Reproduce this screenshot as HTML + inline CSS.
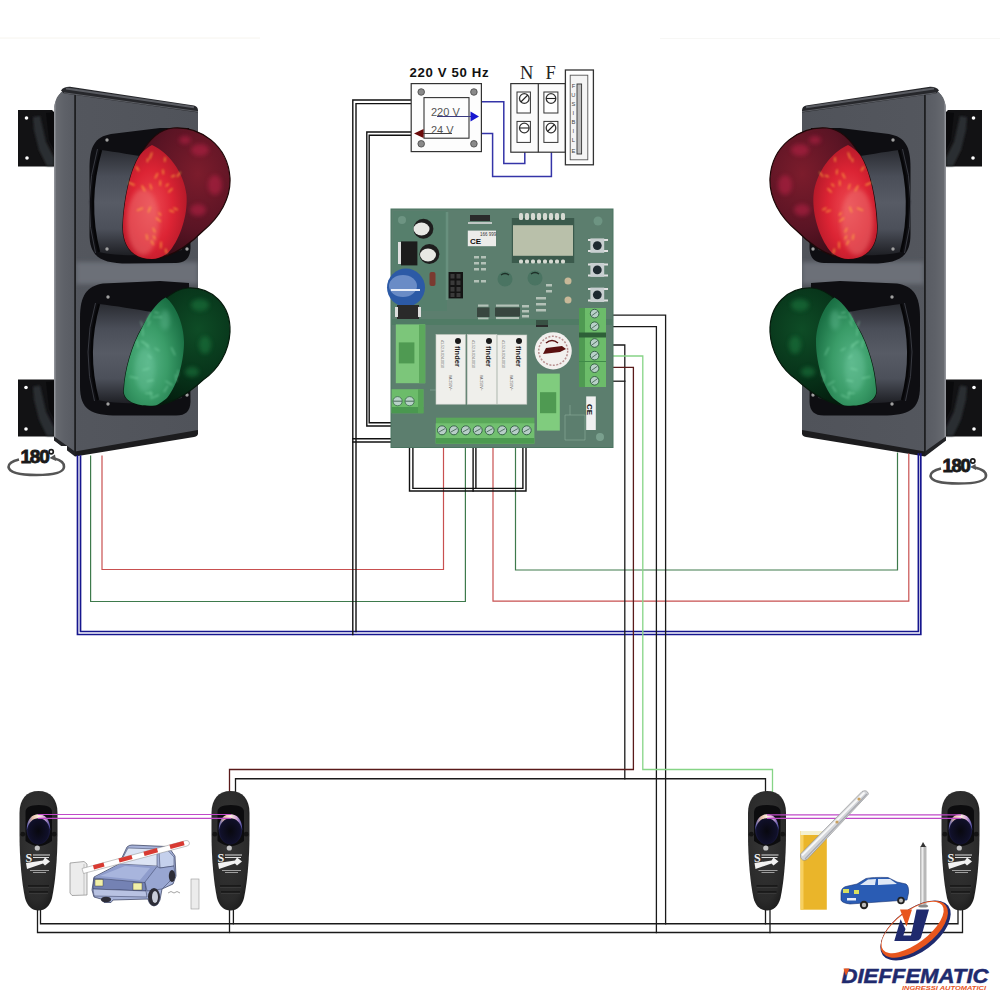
<!DOCTYPE html>
<html><head><meta charset="utf-8"><title>Semaforo schema</title>
<style>
html,body{margin:0;padding:0;background:#fff;}
body{width:1000px;height:1000px;overflow:hidden;font-family:"Liberation Sans",sans-serif;}
svg{display:block;}
</style></head>
<body>
<svg width="1000" height="1000" viewBox="0 0 1000 1000">
<defs>
<clipPath id="faceclip"><rect x="76" y="240" width="122" height="60"/></clipPath>
<filter id="blur2" x="-20%" y="-20%" width="140%" height="140%"><feGaussianBlur stdDeviation="2"/></filter>
<filter id="blur1" x="-20%" y="-20%" width="140%" height="140%"><feGaussianBlur stdDeviation="0.8"/></filter>
<radialGradient id="redIn" cx="0.45" cy="0.55" r="0.6">
<stop offset="0" stop-color="#ee4a52"/><stop offset="0.55" stop-color="#dc2434"/><stop offset="1" stop-color="#b01828"/>
</radialGradient>
<radialGradient id="redOut" cx="0.7" cy="0.35" r="0.7">
<stop offset="0" stop-color="#7c1c2c"/><stop offset="0.6" stop-color="#5a1424"/><stop offset="1" stop-color="#380c16"/>
</radialGradient>
<radialGradient id="grnIn" cx="0.4" cy="0.6" r="0.65">
<stop offset="0" stop-color="#56b486"/><stop offset="0.5" stop-color="#3a9c68"/><stop offset="1" stop-color="#1a7044"/>
</radialGradient>
<radialGradient id="grnOut" cx="0.7" cy="0.35" r="0.7">
<stop offset="0" stop-color="#0e4c26"/><stop offset="0.6" stop-color="#073219"/><stop offset="1" stop-color="#031c0d"/>
</radialGradient>
<linearGradient id="housing" x1="0" y1="0" x2="1" y2="0">
<stop offset="0" stop-color="#54575e"/><stop offset="1" stop-color="#50535a"/>
</linearGradient>
<linearGradient id="side" x1="0" y1="0" x2="1" y2="0">
<stop offset="0" stop-color="#9a9ca2"/><stop offset="0.12" stop-color="#66696f"/><stop offset="0.5" stop-color="#5e6168"/><stop offset="1" stop-color="#585b62"/>
</linearGradient>
<linearGradient id="cyl" x1="0" y1="0" x2="0" y2="1">
<stop offset="0" stop-color="#2a2c32"/><stop offset="0.25" stop-color="#4a4e58"/><stop offset="0.5" stop-color="#575b65"/><stop offset="0.75" stop-color="#4c505a"/><stop offset="1" stop-color="#1e1f24"/>
</linearGradient>
<radialGradient id="hood" cx="0.3" cy="0.6" r="0.62">
<stop offset="0" stop-color="#585c68"/><stop offset="0.45" stop-color="#464a55"/><stop offset="0.8" stop-color="#26282e"/><stop offset="1" stop-color="#0e0e12"/>
</radialGradient>
<radialGradient id="pcell" cx="0.45" cy="0.4" r="0.65">
<stop offset="0" stop-color="#363636"/><stop offset="0.8" stop-color="#2a2a2a"/><stop offset="1" stop-color="#1c1c1c"/>
</radialGradient>
<radialGradient id="plens" cx="0.5" cy="0.55" r="0.6">
<stop offset="0" stop-color="#08080f"/><stop offset="0.7" stop-color="#10102a"/><stop offset="0.9" stop-color="#262656"/><stop offset="1" stop-color="#44447e"/>
</radialGradient>
<linearGradient id="rim" x1="0" y1="0" x2="1" y2="0">
<stop offset="0" stop-color="#5a5ab0"/><stop offset="0.25" stop-color="#e8c0a8"/><stop offset="0.5" stop-color="#fff0e0"/><stop offset="0.75" stop-color="#d8a8d8"/><stop offset="1" stop-color="#4a4aa0"/>
</linearGradient>

<g id="tl">
  <!-- brackets -->
  <path d="M18,110 L52,110 L54,112 L54,166.5 L18,166.5 Z" fill="#121214"/>
  <path d="M33,117 L40,116 L46,142 L54,158 L54,166 L47,166 L39,150 L34,130 Z" fill="#2c2e33" filter="url(#blur1)"/><path d="M46,113 L54,112 L54,150 L49,140 Z" fill="#0a0a0c"/>
  <circle cx="26.5" cy="118" r="1.8" fill="#fff"/>
  <circle cx="27" cy="158" r="1.8" fill="#fff"/>
  <path d="M18,379.5 L54,379.5 L54,436.5 L18,436.5 Z" fill="#121214"/>
  <path d="M33,386.5 L40,385.5 L46,411.5 L54,427.5 L54,436 L47,436 L39,419.5 L34,399.5 Z" fill="#2c2e33" filter="url(#blur1)"/><path d="M46,382 L54,381 L54,419 L49,409 Z" fill="#0a0a0c"/>
  <circle cx="26" cy="387.5" r="1.8" fill="#fff"/>
  <circle cx="26" cy="429" r="1.8" fill="#fff"/>
  <!-- housing body -->
  <path d="M54,108 C55.5,97 61,90 69,88.8 L194,107.5 Q198,108.5 198,113 L198,431 Q198,435 194,436 L75,455.5 L54,440 Z" fill="url(#housing)"/>
  <!-- side panel -->
  <path d="M54,108 C55.5,97 61,90 69,88.8 L75,89.8 L75,455.5 L54,440 Z" fill="url(#side)"/>
  <rect x="76" y="262" width="122" height="22" fill="#6c7078" filter="url(#blur2)" clip-path="url(#faceclip)"/>
  <rect x="74.2" y="93" width="1.8" height="361" fill="#1e1f21"/>
  <!-- top rim -->
  <path d="M61,90.5 Q63.5,86.6 70,86.8 L194,105.5 Q198,106.5 198,110.5 L198,112.5 L75,95 L64,93.5 Z" fill="#26272b"/>
  <path d="M66,88.4 L194,107.2" stroke="#5a5c62" stroke-width="2" fill="none"/>
  <path d="M64,92.8 L75,94.3 L198,111.6" stroke="#6a6c72" stroke-width="0.8" fill="none"/>
  <!-- bottom rim -->
  <path d="M75,451.5 L198,430 L198,433.5 Q198,436 194,437 L75,456.5 Z" fill="#1c1c1e"/>
  <path d="M54,436.5 L75,451.5 L75,456.5 L54,440.5 Z" fill="#222326"/>
  <!-- red lamp -->
  <path d="M89.5,168 C89.5,146 95,137 111,134 L160,128 L189,128 L190.5,248 C190,258 186,262.5 176,263 L128,263.5 C101,263.5 89.5,257 89.5,234 Z" fill="#0e0e12"/>
  <path d="M101,150 C115,152 135,155 150,158 L182,160 L182,250 C160,256 120,257 99,252 Q86,202 101,150 Z" fill="url(#cyl)"/>
  <path d="M97.5,149 Q82,202 95.5,253" stroke="#3c3e46" stroke-width="0.9" fill="none"/>
  <path d="M101,150 Q86,202 99,252" stroke="#060608" stroke-width="2.4" fill="none"/>
  <circle cx="107" cy="140" r="1.7" fill="#a0a0a0"/>
  <circle cx="107" cy="249" r="1.7" fill="#a0a0a0"/>
  <circle cx="187" cy="249" r="1.7" fill="#a0a0a0"/>
  <path d="M173,128 C200,126 228,145 230,178 C231,198 220,217 203,231 C188,246 170,258 152,259 C132,259 122,245 123,225 C124,200 130,170 140,155 C150,138 160,129 173,128 Z" fill="url(#redOut)" stroke="#1e0808" stroke-width="1.2"/>
  <g fill="#c0204a" opacity="0.5" filter="url(#blur2)">
    <ellipse cx="200" cy="150" rx="9" ry="6"/><ellipse cx="215" cy="185" rx="7" ry="10"/><ellipse cx="198" cy="210" rx="8" ry="6"/><ellipse cx="185" cy="140" rx="6" ry="4"/>
  </g>
  <path d="M152,145 C168,152 184,172 186.5,195 C188,215 180,240 168,253 C162,257 157,259 152,259 C132,259 122,245 123,225 C124,200 130,170 140,155 C144,150 148,147 152,145 Z" fill="url(#redIn)"/>
  <ellipse cx="143" cy="222" rx="16" ry="33" fill="#ec7070" opacity="0.5" filter="url(#blur2)"/>
  <g stroke="#ffb83c" stroke-width="1.4" opacity="0.75" stroke-linecap="round" filter="url(#blur1)">
    <path d="M147.4,161.6 l0.3,-2.7"/><path d="M160.2,185.2 l0.1,-4.3"/><path d="M153.5,236.0 l1.5,2.9"/><path d="M165.6,249.2 l1.0,3.8"/><path d="M146.5,234.8 l0.9,4.4"/><path d="M166.3,186.0 l1.9,-2.0"/><path d="M168.8,192.0 l3.2,-3.2"/><path d="M155.2,178.0 l2.3,-4.4"/><path d="M142.6,208.2 l-5.2,2.1"/><path d="M171.8,176.7 l2.6,-1.2"/><path d="M153.1,228.3 l1.9,3.7"/><path d="M173.9,208.0 l3.2,1.7"/><path d="M169.7,210.4 l3.9,1.4"/><path d="M156.4,218.1 l3.9,3.1"/><path d="M177.3,176.3 l2.9,-3.9"/><path d="M151.5,240.9 l1.8,3.6"/><path d="M161.0,242.2 l-0.2,5.5"/><path d="M144.7,190.7 l-2.7,-4.9"/><path d="M138.6,170.5 l-2.3,-3.5"/><path d="M163.3,173.9 l-0.4,-4.0"/><path d="M150.2,207.3 l-1.8,4.6"/><path d="M158.9,212.9 l1.7,2.1"/><path d="M151.5,188.9 l-1.4,-4.5"/><path d="M134.1,185.0 l-5.1,-2.3"/><path d="M164.8,161.3 l0.3,-3.7"/><path d="M149.8,158.5 l2.0,-5.6"/>
  </g>

  <!-- green lamp -->
  <path d="M80,318 C80,295 87,286 103,283.5 L160,281 L189,283 L190.5,402 C190,411 186,415.5 176,415.5 L118,415.5 C91,415.5 80,410 80,386 Z" fill="#0e0e12"/>
  <path d="M99,304 C115,306 135,309 152,312 L182,312 L182,398 C160,404 120,405 98,400 Q85,352 99,304 Z" fill="url(#cyl)"/>
  <path d="M95.5,303 Q81,352 94.5,401" stroke="#3c3e46" stroke-width="0.9" fill="none"/>
  <path d="M99,304 Q85,352 98,400" stroke="#060608" stroke-width="2.4" fill="none"/>
  <circle cx="108" cy="297" r="1.7" fill="#a0a0a0"/>
  <circle cx="108" cy="404" r="1.7" fill="#a0a0a0"/>
  <circle cx="187" cy="395" r="1.7" fill="#a0a0a0"/>
  <path d="M188,288 C212,287 231,305 230,332 C229,352 218,370 203,380 C190,392 172,404 155,405.5 C135,407 122,400 124,389 C125,370 132,345 142,328 C152,310 170,289 188,288 Z" fill="url(#grnOut)" stroke="#061a0c" stroke-width="1.2"/>
  <g fill="#1e7a40" opacity="0.55" filter="url(#blur2)">
    <ellipse cx="200" cy="305" rx="9" ry="6"/><ellipse cx="205" cy="345" rx="6" ry="9"/><ellipse cx="192" cy="372" rx="7" ry="5"/>
  </g>
  <path d="M165.5,297.5 C176,305 184,325 184,342 C184,360 178,385 167,398 C162,402 158,405 155,405.5 C135,407 122,400 124,389 C125,370 132,345 142,328 C148,315 156,303 165.5,297.5 Z" fill="url(#grnIn)"/>
  <g fill="#70c8a0" opacity="0.35" filter="url(#blur2)">
    <ellipse cx="145" cy="370" rx="10" ry="22"/><ellipse cx="165" cy="320" rx="5" ry="10"/>
  </g>
  <g stroke="#9aeec0" stroke-width="1.2" opacity="0.45" stroke-linecap="round" filter="url(#blur1)">
    <path d="M155.0,348.3 l3.9,2.3"/><path d="M147.9,325.5 l2.3,-4.2"/><path d="M158.6,313.2 l-4.0,-1.1"/><path d="M178.1,370.4 l-0.4,5.8"/><path d="M137.7,378.3 l-7.7,-1.6"/><path d="M147.1,321.2 l3.4,-8.3"/><path d="M175.5,374.9 l1.0,6.5"/><path d="M143.0,370.0 l6.0,-1.7"/><path d="M140.8,321.6 l1.7,4.7"/><path d="M164.2,391.6 l3.4,-5.4"/><path d="M165.9,381.2 l6.3,3.7"/><path d="M171.5,347.7 l3.4,7.2"/><path d="M147.3,381.3 l5.9,-1.1"/><path d="M151.3,396.5 l-0.8,-4.8"/><path d="M148.3,355.1 l2.8,3.0"/><path d="M158.5,395.1 l-7.6,3.4"/><path d="M142.6,328.5 l0.4,6.9"/><path d="M143.0,341.6 l5.8,6.3"/><path d="M148.5,345.6 l-7.4,-4.3"/><path d="M152.4,393.4 l-6.7,-0.1"/><path d="M153.5,317.0 l8.0,0.2"/><path d="M138.0,347.2 l-1.1,-6.7"/>
  </g>
</g>

<g id="pc">
  <path d="M38.5,791 C50.5,791 57.5,799 57.5,813 L57.5,834 C57.5,860 55,884 52,898 C50,906 45,910.5 38.5,910.5 C32,910.5 27,906 25,898 C22,884 19.5,860 19.5,834 L19.5,813 C19.5,799 26.5,791 38.5,791 Z" fill="url(#pcell)"/>
  <path d="M25.5,812 Q25.5,805 38.8,805 Q52,805 52,812 L52,841 Q45,846 38.8,846 Q32,846 25.5,841 Z" fill="#0c0c0e"/>
  <ellipse cx="38.4" cy="829.5" rx="11.8" ry="15" fill="url(#plens)"/>
  <path d="M26.8,830 C26.8,819 32,814.3 38.4,814.3 C45,814.3 50.2,819 50.2,830 C48.5,822 44,818.2 38.4,818.2 C33,818.2 28.5,822 26.8,830 Z" fill="url(#rim)"/>
  <circle cx="22.8" cy="834.2" r="2.4" fill="#141414"/>
  <circle cx="54.2" cy="834.2" r="2.4" fill="#141414"/>
  <circle cx="37.3" cy="848" r="2.6" fill="#c4c4c4"/>
  <text x="25.5" y="861.5" font-family="Liberation Serif" font-weight="bold" font-size="12" fill="#f2f2f2">S</text>
  <path d="M33,855 H50 M33,857.5 H49" stroke="#dcdcdc" stroke-width="1.1"/>
  <path d="M26,863 L43,860.5 L45,857.5 L50,861.5 L45,865.5 L43,863.5 L27,869 Z" fill="#f2f2f2"/>
  <path d="M30,870.5 H49 M33,872.5 H46" stroke="#bdbdbd" stroke-width="0.8"/>
  <path d="M28,886 H49 M29,892 H48" stroke="#141414" stroke-width="1.3"/>
  <path d="M28,887.3 H49 M29,893.3 H48" stroke="#4a4a4a" stroke-width="0.6"/>
</g>
</defs>

<rect width="1000" height="1000" fill="#fff"/>
<line x1="0" y1="38" x2="260" y2="38" stroke="#f6f4ee" stroke-width="1"/>
<line x1="660" y1="38.5" x2="1000" y2="38.5" stroke="#f7f7f5" stroke-width="1"/>

<use href="#tl"/>
<use href="#tl" transform="translate(1000,0) scale(-1,1)"/>


<!-- ================= WIRES ================= -->
<g fill="none" stroke-linejoin="miter" stroke-linecap="square">
  <!-- blue common -->
  <g stroke="#16168e" stroke-width="1.7">
    <path d="M77.5,456 V634.5 H920.8 V454"/>
    <path d="M80.5,456 V631.5 H918.4 V454"/>
  </g>
  <!-- traffic light red/green -->
  <path d="M102,456 V569.5 H443.5 V447" stroke="#c85050" stroke-width="1.2"/>
  <path d="M90.6,456 V601.5 H465.4 V447" stroke="#3e7a4c" stroke-width="1.2"/>
  <path d="M908.8,454 V601.2 H493 V447" stroke="#c85050" stroke-width="1.2"/>
  <path d="M897.5,453 V570 H515.5 V447" stroke="#3e7a4c" stroke-width="1.2"/>
  <!-- black transformer wires -->
  <g stroke="#111" stroke-width="1.4">
    <path d="M411,100 H352.8 V634.5"/>
    <path d="M411,103.6 H356 V631.5"/>
    <path d="M411,132 H366.8 V426 H404.2 V414"/>
    <path d="M411,135.2 H369.2 V422.8 H400.2 V414"/>
    <path d="M353,438.8 H412.9"/>
    <path d="M353,442 H409.5"/>
    <path d="M409.5,413 V491 H526 V446"/>
    <path d="M412.9,413 V488.4 H522.9 V446"/>
    <path d="M473.1,446 V491"/>
    <path d="M475.9,446 V488.4"/>
  </g>
  <!-- photocell wiring -->
  <g stroke="#1a1a1a" stroke-width="1.3">
    <path d="M612,315.2 H665.6 V923.75"/>
    <path d="M612,326.6 H656.4 V932.5"/>
    <path d="M612,345 H624.8 V778.75"/>
    <path d="M612,381.2 H624.8"/>
    <path d="M235.5,793 V778.75 H765.5 V793"/>
    <path d="M37.5,909 V932.5 H962.5 V909"/>
    <path d="M40.5,909 V923.75 H958 V909"/>
    <path d="M229.5,909 V932.5"/>
    <path d="M233.4,909 V923.75"/>
    <path d="M765.5,909 V923.75"/>
    <path d="M770,909 V932.5"/>
  </g>
  <path d="M612,356 H642.8 V769.5 H772.5 V793" stroke="#86d486" stroke-width="1.3"/>
  <path d="M612,367.4 H633.4 V769.5 H229.5 V793" stroke="#5a1a1a" stroke-width="1.3"/>
  <!-- blue power -->
  <g stroke="#3434a8" stroke-width="1.5">
    <path d="M481.4,101.8 H503.8 V163.4 H524.8 V152.2"/>
    <path d="M481.4,133.4 H492.6 V176.6 H551.4 V152.2"/>
  </g>
</g>

<!-- ================= TRANSFORMER ================= -->
<text x="409.5" y="76.6" font-family="Liberation Sans" font-weight="bold" font-size="13.2" fill="#111" textLength="79" lengthAdjust="spacing">220 V 50 Hz</text>
<rect x="411.2" y="83.6" width="70.2" height="68" fill="#fdfdfd" stroke="#333" stroke-width="1.2"/>
<rect x="424" y="97.6" width="45" height="40.6" fill="#fdfdfd" stroke="#333" stroke-width="1.1"/>
<g fill="#8a8a8a" stroke="#444" stroke-width="0.8">
  <circle cx="421.2" cy="92" r="3.3"/><circle cx="473.9" cy="92" r="3.3"/>
  <circle cx="421.2" cy="143.8" r="3.3"/><circle cx="473.9" cy="143.8" r="3.3"/>
</g>
<text x="431" y="115.5" font-family="Liberation Sans" font-size="11" fill="#555">220 V</text>
<text x="431" y="133.5" font-family="Liberation Sans" font-size="11" fill="#555">24 V</text>
<path d="M437,116.5 H472" stroke="#3a3a80" stroke-width="1"/>
<path d="M470.5,111.5 L479,116.5 L470.5,121.5 Z" fill="#1616d0"/>
<path d="M423,133.5 H452" stroke="#444" stroke-width="1"/>
<path d="M414,133.5 L423.5,129 L423.5,138 Z" fill="#6a0a0a"/>

<!-- N F terminals -->
<text x="520" y="78.5" font-family="Liberation Serif" font-size="18.5" fill="#222">N</text>
<text x="545.5" y="78.5" font-family="Liberation Serif" font-size="18.5" fill="#222">F</text>
<rect x="510.8" y="83.6" width="54.6" height="68.6" fill="#fbfbfb" stroke="#333" stroke-width="1.2"/>
<line x1="538.3" y1="83.6" x2="538.3" y2="152.2" stroke="#333" stroke-width="1.2"/>
<g fill="#fff" stroke="#333" stroke-width="1">
  <rect x="517" y="92" width="13.4" height="21"/><rect x="517" y="121.4" width="13.4" height="21"/>
  <rect x="543.9" y="92" width="14" height="21"/><rect x="543.9" y="121.4" width="14" height="21"/>
  <circle cx="524.3" cy="98.5" r="4.8" stroke-width="1.3"/><circle cx="524.3" cy="128" r="4.8" stroke-width="1.3"/>
  <circle cx="551" cy="98.5" r="4.8" stroke-width="1.3"/><circle cx="551" cy="128" r="4.8" stroke-width="1.3"/>
</g>
<g stroke="#222" stroke-width="1.1">
  <path d="M520.8,102 L527.8,95"/><path d="M519.5,128 H529.1"/>
  <path d="M546.2,98.5 H555.8"/><path d="M547.5,131.5 L554.5,124.5"/>
</g>
<!-- fuse -->
<rect x="565.4" y="70" width="28" height="94.8" fill="#fff" stroke="#333" stroke-width="1.3"/>
<rect x="570.2" y="75.2" width="17.6" height="84.6" fill="#f4f4f4" stroke="#555" stroke-width="0.9"/>
<rect x="577" y="84" width="4.6" height="70" fill="#bdbdbd" stroke="#333" stroke-width="0.9"/>
<g font-family="Liberation Sans" font-size="5.8" fill="#444" text-anchor="middle">
  <text x="573.4" y="88">F</text><text x="573.4" y="97">U</text><text x="573.4" y="106">S</text><text x="573.4" y="115">I</text>
  <text x="573.4" y="124">B</text><text x="573.4" y="133">I</text><text x="573.4" y="142">L</text><text x="573.4" y="153">E</text>
</g>


<!-- ================= PCB ================= -->
<g id="pcb">
  <rect x="391" y="209" width="222" height="238.5" fill="#5c7e6e"/>
  <rect x="391" y="209" width="222" height="238.5" fill="none" stroke="#4a7560" stroke-width="1"/>
  <!-- subtle regions -->
  <rect x="393" y="211" width="54" height="100" fill="#52806a" opacity="0.6"/>
  <path d="M447,212 V300" stroke="#6f9886" stroke-width="2.5" opacity="0.7"/>
  <circle cx="402" cy="220" r="4" fill="#6d9482"/>
  <circle cx="598" cy="221" r="4.5" fill="#6d9482"/>
  <circle cx="600" cy="437" r="4" fill="#7aa08e"/>
  <!-- mounting holes/ traces -->
  <circle cx="505" cy="279" r="7.5" fill="#4a7462"/>
  <circle cx="535" cy="278" r="7.5" fill="#4a7462"/>
  <path d="M501,275 Q505,272 509,275 M531,274 Q535,271 539,274" stroke="#1e3028" stroke-width="1.5" fill="none"/>
  <!-- black caps -->
  <circle cx="423.4" cy="228.8" r="10" fill="#1e1e1e"/>
  <ellipse cx="421.5" cy="229" rx="8" ry="6.5" fill="#e8e8e4"/>
  <circle cx="429.4" cy="254" r="10" fill="#1e1e1e"/>
  <ellipse cx="428" cy="255" rx="8" ry="6.5" fill="#e8e8e4"/>
  <!-- regulator -->
  <rect x="398" y="242" width="3" height="22" fill="#e0e0e0"/>
  <rect x="401" y="241.4" width="16.4" height="24" fill="#1c1c1c"/>
  <!-- resistor -->
  <rect x="429.5" y="272" width="6" height="14" rx="2" fill="#7a3a30"/>
  <!-- blue cap -->
  <circle cx="406" cy="287.6" r="19" fill="#2c5aa6"/>
  <ellipse cx="403" cy="286" rx="14" ry="11" fill="#6a8cc6"/>
  <path d="M391,290 H420" stroke="#e8eef8" stroke-width="2"/>
  <!-- IC under regulator -->
  <rect x="397" y="305" width="22" height="14" fill="#2a2a2a"/>
  <rect x="395" y="307" width="3" height="10" fill="#ddd"/><rect x="418" y="307" width="3" height="10" fill="#ddd"/>
  <!-- connector -->
  <rect x="448.6" y="272" width="14.4" height="26.4" fill="#141414"/>
  <g fill="#3a3a3a"><rect x="450.5" y="274" width="4" height="4.5"/><rect x="456.5" y="274" width="4" height="4.5"/>
  <rect x="450.5" y="280.5" width="4" height="4.5"/><rect x="456.5" y="280.5" width="4" height="4.5"/>
  <rect x="450.5" y="287" width="4" height="4.5"/><rect x="456.5" y="287" width="4" height="4.5"/>
  <rect x="450.5" y="293" width="4" height="4"/><rect x="456.5" y="293" width="4" height="4"/></g>
  <!-- label -->
  <rect x="467.8" y="230.6" width="28.2" height="15.6" fill="#ececea"/>
  <text x="470" y="243.5" font-family="Liberation Sans" font-weight="bold" font-size="8" fill="#111">CE</text>
  <text x="480" y="236" font-family="Liberation Sans" font-size="4.5" fill="#333">166 999</text>
  <!-- small chips top -->
  <rect x="470" y="215" width="20" height="6" fill="#2a2a2a"/>
  <g fill="#d8d8d8" opacity="0.8"><rect x="468" y="222" width="24" height="2"/></g>
  <!-- LCD -->
  <rect x="511.8" y="218" width="62.4" height="45" fill="#3b5a4c"/>
  <g fill="#d6dad2"><rect x="519" y="213" width="4" height="7" rx="1.5"/><rect x="525" y="213" width="4" height="7" rx="1.5"/><rect x="531" y="213" width="4" height="7" rx="1.5"/><rect x="537" y="213" width="4" height="7" rx="1.5"/><rect x="543" y="213" width="4" height="7" rx="1.5"/><rect x="549" y="213" width="4" height="7" rx="1.5"/><rect x="555" y="213" width="4" height="7" rx="1.5"/><rect x="561" y="213" width="4" height="7" rx="1.5"/>
  <rect x="519" y="259.5" width="4" height="4" rx="1.5"/><rect x="525" y="259.5" width="4" height="4" rx="1.5"/><rect x="531" y="259.5" width="4" height="4" rx="1.5"/><rect x="537" y="259.5" width="4" height="4" rx="1.5"/><rect x="543" y="259.5" width="4" height="4" rx="1.5"/><rect x="549" y="259.5" width="4" height="4" rx="1.5"/><rect x="555" y="259.5" width="4" height="4" rx="1.5"/><rect x="561" y="259.5" width="4" height="4" rx="1.5"/></g>
  <rect x="513" y="225.2" width="60" height="30.6" fill="#b9c0aa"/>
  <!-- buttons -->
  <g>
    <rect x="588" y="239" width="20" height="2" fill="#e0e0e0"/><rect x="588" y="250" width="20" height="2" fill="#e0e0e0"/>
    <rect x="590.4" y="238.4" width="13.8" height="14.4" fill="#c8cfd0"/><circle cx="597.3" cy="245.6" r="4.4" fill="#1e2a30"/>
    <rect x="588" y="263.5" width="20" height="2" fill="#e0e0e0"/><rect x="588" y="274.5" width="20" height="2" fill="#e0e0e0"/>
    <rect x="590.4" y="263" width="13.8" height="13.8" fill="#c8cfd0"/><circle cx="597.3" cy="269.9" r="4.4" fill="#1e2a30"/>
    <rect x="588" y="288" width="20" height="2" fill="#e0e0e0"/><rect x="588" y="299.5" width="20" height="2" fill="#e0e0e0"/>
    <rect x="590.4" y="287.6" width="13.8" height="14.4" fill="#c8cfd0"/><circle cx="597.3" cy="294.8" r="4.4" fill="#1e2a30"/>
  </g>
  <!-- LEDs -->
  <circle cx="568" cy="281" r="3.5" fill="#c8b898"/>
  <circle cx="568" cy="300" r="3.5" fill="#c8b898"/>
  <!-- small SMD chips middle -->
  <rect x="477" y="307.5" width="12.5" height="9.5" fill="#38463f"/>
  <rect x="495" y="307.5" width="25" height="9" fill="#38463f"/>
  <g fill="#d0d8d0" opacity="0.75">
    <rect x="478" y="304.5" width="10.5" height="2.2"/><rect x="478" y="317.5" width="10.5" height="2.2"/>
    <rect x="496" y="304.5" width="23" height="2.2"/><rect x="496" y="317" width="23" height="2.2"/>
    <rect x="522" y="305" width="7" height="2.5"/><rect x="522" y="310" width="7" height="2.5"/><rect x="522" y="315" width="7" height="2.5"/>
    <rect x="474" y="256" width="5" height="2.5"/><rect x="481" y="256" width="5" height="2.5"/>
    <rect x="474" y="262" width="5" height="2.5"/><rect x="481" y="262" width="5" height="2.5"/>
    <rect x="474" y="268" width="5" height="2.5"/><rect x="481" y="268" width="5" height="2.5"/>
    <rect x="474" y="280" width="5" height="2.5"/><rect x="481" y="280" width="5" height="2.5"/>
    <rect x="536" y="297" width="10" height="2.5"/><rect x="536" y="303" width="10" height="2.5"/><rect x="536" y="309" width="10" height="2.5"/>
    <rect x="546" y="284" width="6" height="2.5"/><rect x="546" y="290" width="6" height="2.5"/>
  </g>
  <rect x="536" y="320" width="12" height="7" fill="#2a2a2a"/>
  <path d="M392,322 H612" stroke="#467a5e" stroke-width="6" opacity="0.5"/>
  <!-- left fuse holder -->
  <rect x="395.8" y="324.4" width="29.4" height="58.8" fill="#7cc67a"/>
  <rect x="419" y="324.4" width="6.2" height="58.8" fill="#5ca85c"/>
  <rect x="398.8" y="342.4" width="15.6" height="21" fill="#4f9a52"/>
  <!-- small terminal left -->
  <rect x="391.6" y="389.2" width="31.8" height="24" fill="#6cbc6a"/>
  <rect x="391.6" y="407" width="31.8" height="6.2" fill="#4a9850"/>
  <rect x="418" y="389.2" width="5.4" height="24" fill="#56a456"/>
  <circle cx="397.6" cy="401.2" r="4.6" fill="#b8d2c8" stroke="#3a6a4a" stroke-width="0.8"/>
  <circle cx="409.6" cy="401.2" r="4.6" fill="#b8d2c8" stroke="#3a6a4a" stroke-width="0.8"/>
  <path d="M393.2,401.2 H402 M405.2,401.2 H414" stroke="#4a6a5a" stroke-width="1"/>
  <!-- relays -->
  <g fill="#efefeb" stroke="#c8ccc6" stroke-width="0.6">
    <rect x="436" y="334.6" width="29.4" height="69.6"/>
    <rect x="467.2" y="334.6" width="29.6" height="69.6"/>
    <rect x="497.2" y="335" width="29.6" height="69.2"/>
  </g>
  <g fill="#1a1a1a">
    <circle cx="458" cy="341" r="3"/><circle cx="489" cy="341" r="3"/><circle cx="519" cy="341" r="3"/>
  </g>
  <g font-family="Liberation Sans" font-weight="bold" font-size="7.5" fill="#222">
    <text transform="translate(455,346) rotate(90)">finder</text>
    <text transform="translate(486,346) rotate(90)">finder</text>
    <text transform="translate(516,346) rotate(90)">finder</text>
  </g>
  <g font-family="Liberation Sans" font-size="3.6" fill="#666">
    <text transform="translate(441,340) rotate(90)">41.52.9.024.0010</text>
    <text transform="translate(472,340) rotate(90)">41.52.9.024.0010</text>
    <text transform="translate(502,340) rotate(90)">41.52.9.024.0010</text>
    <text transform="translate(449,375) rotate(90)">8A 250V~</text>
    <text transform="translate(480,375) rotate(90)">8A 250V~</text>
    <text transform="translate(510,375) rotate(90)">8A 250V~</text>
  </g>
  <!-- sticker -->
  <circle cx="553.2" cy="350.8" r="18.6" fill="#f2f0ee"/>
  <circle cx="553.2" cy="350.8" r="14.5" fill="none" stroke="#b89090" stroke-width="1.5" stroke-dasharray="2 1.5"/>
  <path d="M543,354 L560,352 L566,349 L562,346 L546,348 Z" fill="#5a1010"/>
  <path d="M546,343 Q552,338 558,343" stroke="#5a1010" stroke-width="1.5" fill="none"/>
  <!-- right fuse holder -->
  <rect x="537" y="373.6" width="22.8" height="57" fill="#80cc7e"/>
  <rect x="540" y="392.2" width="16.2" height="21" fill="#4f9a52"/>
  <!-- right terminal blocks -->
  <rect x="579" y="308" width="27" height="79" fill="#6cbc6a"/>
  <rect x="579" y="308" width="6" height="79" fill="#4f9a52"/>
  <path d="M579,333.5 H606 M579,361.5 H606" stroke="#3f8a48" stroke-width="1"/>
  <rect x="579" y="332.5" width="27" height="5" fill="#2e6038"/>
  <g fill="#b8d0c8" stroke="#2e5a3e" stroke-width="0.9">
    <circle cx="594.6" cy="313.6" r="4.3"/>
    <circle cx="594.6" cy="326.2" r="4.3"/>
    <circle cx="594.6" cy="343" r="4.3"/>
    <circle cx="594.6" cy="355.6" r="4.3"/>
    <circle cx="594.6" cy="368.2" r="4.3"/>
    <circle cx="594.6" cy="380.8" r="4.3"/>
  </g>
  <g stroke="#3a5a4a" stroke-width="0.8">
    <path d="M591.6,315.8 L597.6,311.4"/>
    <path d="M591.6,328.4 L597.6,324.0"/>
    <path d="M591.6,345.2 L597.6,340.8"/>
    <path d="M591.6,357.8 L597.6,353.4"/>
    <path d="M591.6,370.4 L597.6,366.0"/>
    <path d="M591.6,383.0 L597.6,378.6"/>
  </g>
  <!-- CE label right -->
  <rect x="586.2" y="396.4" width="9.6" height="33.6" fill="#f0f0f0"/>
  <text x="587" y="412" font-family="Liberation Sans" font-weight="bold" font-size="8" fill="#111" transform="rotate(90 591 408)">CE</text>
  <!-- bottom terminal strip -->
  <rect x="436" y="417.7" width="98.4" height="7" fill="#5aa85a"/>
  <rect x="435.7" y="423.3" width="98.7" height="20.3" fill="#72c070"/>
  <rect x="435.7" y="438" width="98.7" height="5.6" fill="#4c9a50"/>
  <g fill="#b8cec8" stroke="#2e5a3e" stroke-width="0.9">
    <circle cx="442" cy="430.3" r="4.5"/>
    <circle cx="453.9" cy="430.3" r="4.5"/>
    <circle cx="465.8" cy="430.3" r="4.5"/>
    <circle cx="477.7" cy="430.3" r="4.5"/>
    <circle cx="489.6" cy="430.3" r="4.5"/>
    <circle cx="502.2" cy="430.3" r="4.5"/>
    <circle cx="514.8" cy="430.3" r="4.5"/>
    <circle cx="526.7" cy="430.3" r="4.5"/>
  </g>
  <g stroke="#3a5a4a" stroke-width="0.8">
    <path d="M439.0,432.0 L445.0,428.6"/>
    <path d="M450.9,432.0 L456.9,428.6"/>
    <path d="M462.8,432.0 L468.8,428.6"/>
    <path d="M474.7,432.0 L480.7,428.6"/>
    <path d="M486.6,432.0 L492.6,428.6"/>
    <path d="M499.2,432.0 L505.2,428.6"/>
    <path d="M511.8,432.0 L517.8,428.6"/>
    <path d="M523.7,432.0 L529.7,428.6"/>
  </g>
  <!-- silkscreen bits -->
  <g fill="none" stroke="#9ab8aa" stroke-width="0.6" opacity="0.8">
    <path d="M565,415 H585 V440 H565 Z"/><path d="M570,405 V415"/><path d="M430,390 H436"/>
  </g>
</g>


<!-- ================= PHOTOCELLS ================= -->
<use href="#pc"/>
<use href="#pc" transform="translate(192,0)"/>
<use href="#pc" transform="translate(728.5,0)"/>
<use href="#pc" transform="translate(922,0)"/>
<!-- beams -->
<g stroke="#c048c8" stroke-width="1.2" fill="none">
  <path d="M38,814.5 H231"/><path d="M38,818.4 H231"/>
  <path d="M767,814.8 H961"/><path d="M767,818.3 H961"/>
</g>

<!-- ================= LEFT CAR SCENE ================= -->
<g id="car1">
  <!-- barrier box -->
  <path d="M70,863 L84,861.5 L87,864 L87,895 L72,895.5 L70,893 Z" fill="#ececec" stroke="#888" stroke-width="0.7"/>
  <path d="M84,864 V895" stroke="#aaa" stroke-width="0.6"/>
  <!-- car body -->
  <path d="M94,877 L119,864 L127,847 Q129,845 132,845 L166,846.5 Q169,847 170,849 L175,856 L176,876 L173,884 L162,889 L160,900 Q158,906 154,906 Q149,905 148,899 L113,900 L111,902.5 L104,902.5 L101,899 L94,897 L92,890 Z" fill="#a6b2d8" stroke="#2e3658" stroke-width="0.7"/>
  <path d="M119.5,864 L128,848 L157,849 L157,866 Z" fill="#dce4f4" stroke="#2e3658" stroke-width="0.5"/>
  <path d="M159,850 L167,849.5 L174,857 L174,866 L160,868 Z" fill="#c4d0ec" stroke="#2e3658" stroke-width="0.5"/>
  <path d="M94.5,877.5 L119.5,864.5 L157,866.5 L145,882 Z" fill="#8e9ccc"/>
  <path d="M100,876 L125,866 L150,868 L140,880 Z" fill="#b4c0e4" opacity="0.7"/>
  <path d="M94,878 L145,882.5 L146,891 L93,889 Z" fill="#7482b4" stroke="#2e3658" stroke-width="0.5"/>
  <path d="M93,889 L146,891 L147,897 L94,896 Z" fill="#b8c2e2" stroke="#2e3658" stroke-width="0.5"/>
  <path d="M145,882 L157,866.5 L160,868 L174,866 L175,876 L162,889 L147,891 Z" fill="#98a6d2" stroke="#2e3658" stroke-width="0.5"/>
  <rect x="95" y="879.5" width="8" height="6.5" fill="#f2f0a8" stroke="#333" stroke-width="0.4"/>
  <rect x="133" y="883" width="9" height="7" fill="#f2f0a8" stroke="#333" stroke-width="0.4"/>
  <ellipse cx="154" cy="897" rx="6" ry="9" fill="#2c2c36"/>
  <ellipse cx="155" cy="897" rx="3" ry="6" fill="#c8ccd8"/>
  <ellipse cx="106" cy="899.5" rx="5" ry="2.8" fill="#2c2c36"/>
  <ellipse cx="172" cy="876" rx="3.2" ry="6" fill="#2c2c36"/>
  <!-- arm -->
  <path d="M82,868.5 L186,840.5 Q189,840 189.5,843 Q189.5,845.5 187,846 L83.5,873.5 Z" fill="#ffffff" stroke="#888" stroke-width="0.5"/>
  <g stroke="#d83a32" stroke-width="4.3">
    <path d="M93.5,867.3 L104,864.5"/><path d="M119,860.5 L132,857"/><path d="M144,853.8 L157.5,850.2"/><path d="M170,846.8 L184,843.1"/>
  </g>
  <!-- small right post -->
  <rect x="191" y="879" width="8" height="30" fill="#ececec" stroke="#999" stroke-width="0.6"/>
  <!-- exhaust puffs -->
  <path d="M168,893 q3,-3 6,0 q3,-3 6,0" stroke="#666" stroke-width="0.6" fill="none"/>
</g>

<!-- ================= RIGHT CAR SCENE ================= -->
<g id="car2">
  <rect x="800.5" y="831" width="26.3" height="78.7" fill="#eab52a"/>
  <rect x="800.5" y="831" width="3" height="78.7" fill="#f7d060"/>
  <rect x="800.5" y="831" width="26.3" height="4" fill="#f4f0d0"/>
  <path d="M800.5,854 L862,791.5 Q867,789 868.5,794 L807,859.5 Q802,862 800.5,857 Z" fill="#d4d6da" stroke="#8a8a8a" stroke-width="0.6"/>
  <path d="M802,855.5 L864.5,792.5" stroke="#f8f8f8" stroke-width="1.8"/>
  <path d="M805,859 L867,794" stroke="#a8aab0" stroke-width="1.2"/>
  <circle cx="859" cy="799" r="1.6" fill="#c8a060"/>
  <circle cx="837" cy="822" r="1.6" fill="#c8a060"/>
  <!-- blue car -->
  <path d="M841,893 Q841,887 848,886 L857,884 L866,878.5 Q872,877 888,877.5 L897,882 L906,884 Q909,886 908.5,893 L907,900 L850,904 Q842,903 841,900 Z" fill="#2a5cb4" stroke="#163070" stroke-width="0.6"/>
  <path d="M860,885 L868,879.5 L876,879 L875,885 Z" fill="#dfe8f6"/>
  <path d="M878,879 L890,879 L897,884 L878,885 Z" fill="#dfe8f6"/>
  <rect x="843" y="889" width="6" height="4" fill="#d8e060"/>
  <rect x="854" y="890" width="5" height="4" fill="#d8e060"/>
  <rect x="847" y="898" width="9" height="2.5" fill="#e8eef8"/>
  <circle cx="864" cy="905" r="4.2" fill="#222"/><circle cx="864" cy="905" r="2.2" fill="#bbb"/>
  <circle cx="901" cy="900.5" r="3.8" fill="#222"/><circle cx="901" cy="900.5" r="2" fill="#bbb"/>
  <!-- post -->
  <rect x="920" y="846" width="6.5" height="60" fill="#b8b8b8"/>
  <rect x="921.5" y="846" width="2" height="60" fill="#ececec"/>
  <path d="M920.5,847 L923,842 L926,847 Z" fill="#333"/>
  <ellipse cx="923.2" cy="906" rx="5" ry="1.6" fill="#888"/>
</g>

<!-- ================= LOGO ================= -->
<g id="logo">
  <mask id="ringm" maskUnits="userSpaceOnUse" x="860" y="890" width="110" height="80">
    <rect x="860" y="890" width="110" height="80" fill="#fff"/>
    <ellipse cx="912.6" cy="927.4" rx="37" ry="16.2" transform="rotate(-37 912.6 927.4)" fill="#000"/>
  </mask>
  <g mask="url(#ringm)">
  <ellipse cx="915.5" cy="930.5" rx="41" ry="21.5" transform="rotate(-37 915.5 930.5)" fill="#1f2a6e"/>
  <ellipse cx="914.3" cy="929.2" rx="39.5" ry="19.6" transform="rotate(-37 914.3 929.2)" fill="#e8561e"/>
  </g>
  <path d="M916.5,909.5 L929,909.5 L921,937.5 Q919.5,941 914,941 L894.3,941 L900.6,919.3 L905.5,929 L903.3,935.5 L911,935.5 Z" fill="#1f2a6e"/>
  <path d="M900,909.5 L912,909.5 L906.5,926.5 Z" fill="#e8561e"/>
  <text x="841.5" y="983.2" font-family="Liberation Sans" font-weight="bold" font-style="italic" font-size="20.5" fill="#1f2a6e" stroke="#1f2a6e" stroke-width="0.5" textLength="147" lengthAdjust="spacingAndGlyphs">DIEFFEMATIC</text>
  <path d="M843.5,968.5 L849.5,968.5 L846,976 Z" fill="#e8561e"/>
  <text x="902" y="989.8" font-family="Liberation Sans" font-weight="bold" font-style="italic" font-size="5.8" fill="#e8561e" textLength="84" lengthAdjust="spacingAndGlyphs">INGRESSI AUTOMATICI</text>
</g>

<!-- 180 labels -->
<rect x="54" y="446" width="13" height="9" fill="#fff"/>
<g stroke="#555" stroke-width="2.6" fill="none">
  <path d="M19,459.5 Q8.5,462 8.5,467 Q9.5,475 36.5,475 Q63.5,475 64,467 Q64.5,461 54.5,458.5"/>
  <path d="M941,468.5 Q930.5,471 930.5,476 Q931.5,483.5 958.5,483.5 Q985.5,483.5 986,476 Q986.5,470 974.5,467.5"/>
</g>
<path d="M49.5,458 L55,454.5 L56,461 Z" fill="#555"/>
<path d="M970,467 L975.5,464 L976,470 Z" fill="#555"/>
<g font-family="Liberation Sans" font-weight="bold" fill="#1a1a1a" stroke="#1a1a1a" stroke-width="0.9">
  <text x="20.5" y="462.8" font-size="19" letter-spacing="-1.2">180</text>
  <text x="942.5" y="471.8" font-size="18.5" letter-spacing="-1.3">180</text>
</g>
<circle cx="51.2" cy="451.8" r="2.1" fill="none" stroke="#1a1a1a" stroke-width="1.7"/>
<circle cx="972.8" cy="461" r="2.1" fill="none" stroke="#1a1a1a" stroke-width="1.7"/>

</svg>
</body></html>
